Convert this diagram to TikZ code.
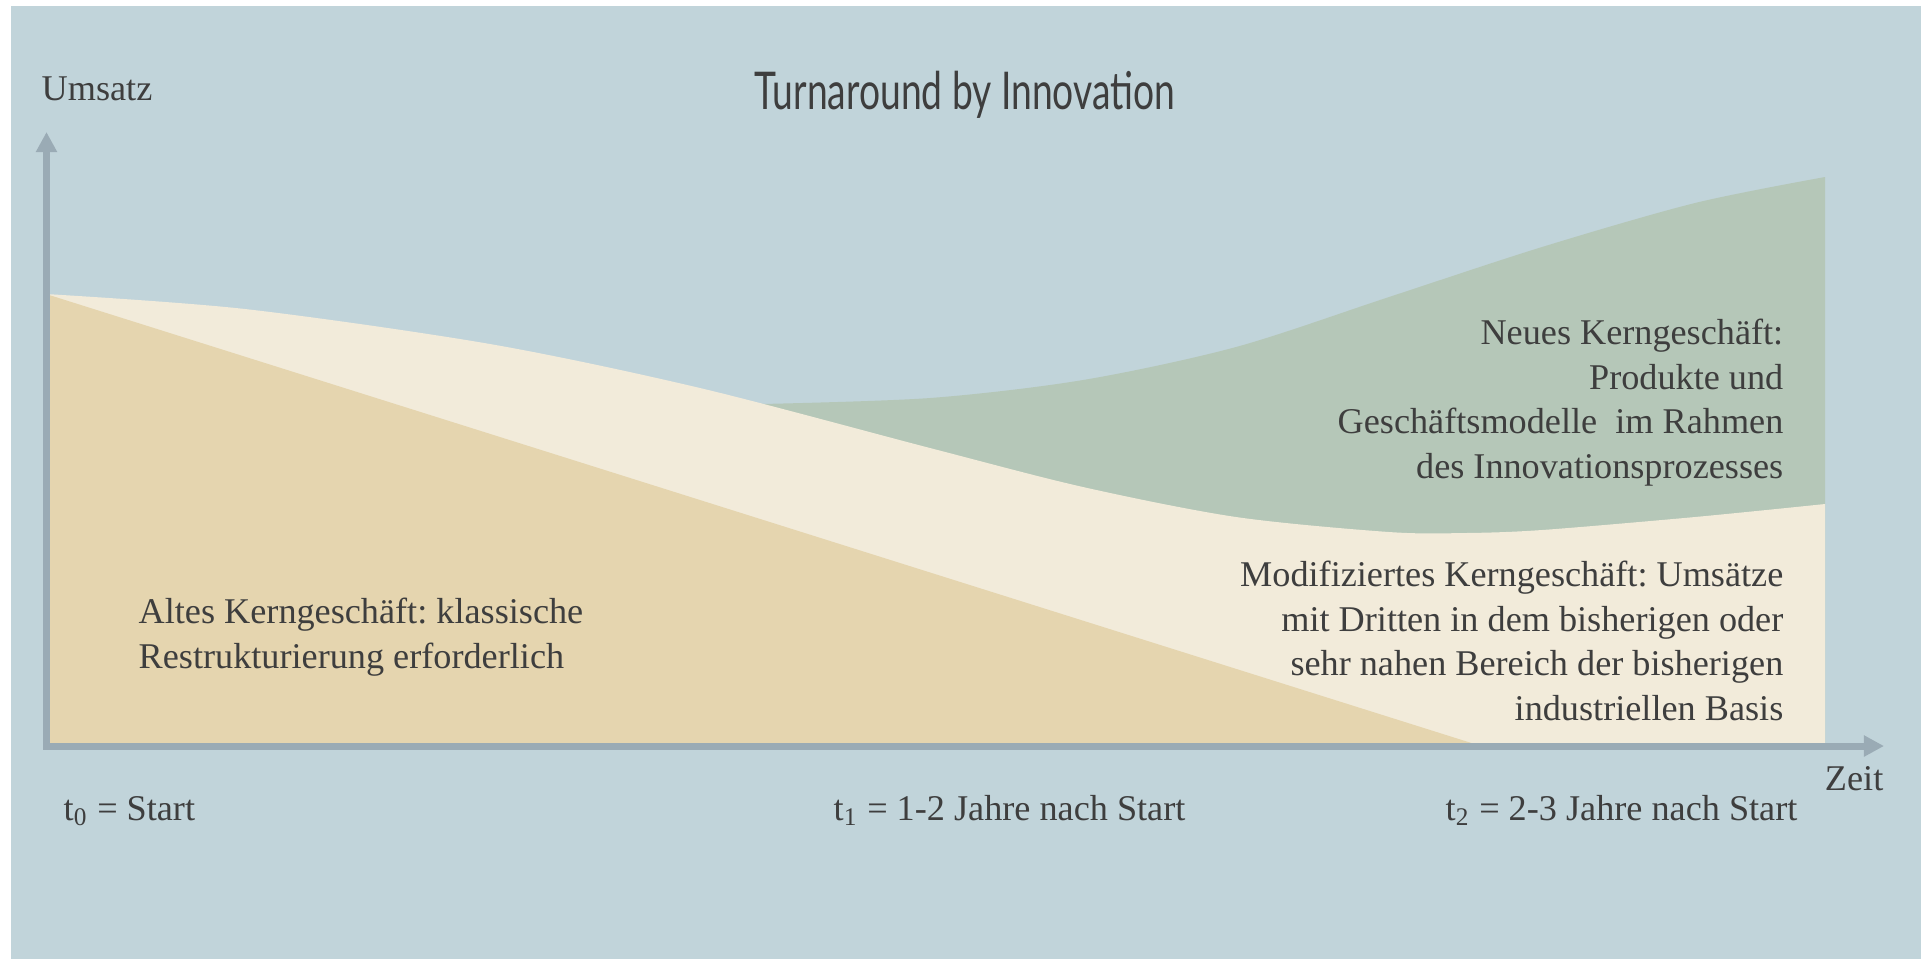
\documentclass[tikz,border=0pt]{standalone}
\usepackage{fontspec}
\setmainfont{Liberation Serif}
\newfontfamily\titelfont[FakeStretch=0.715]{Lato}
\usetikzlibrary{arrows.meta}
\frenchspacing

\definecolor{hinter}{HTML}{C1D4DA}
\definecolor{achse}{HTML}{9AABB5}
\definecolor{alt}{HTML}{E5D5AF}
\definecolor{modif}{HTML}{F2EBDA}
\definecolor{neu}{HTML}{B5C7B8}
\definecolor{schrift}{HTML}{3E3E3E}

\tikzset{
  achsenpfeil/.style={draw=achse, line width=2pt, line cap=rect,
    -{Triangle[width=5.7pt,length=5.7pt]}},
  beschr/.style={font=\fontsize{10.3}{12.65}\selectfont, text=schrift, inner sep=0pt},
}

\begin{document}
\begin{tikzpicture}[x=0.01cm, y=-0.01cm]
  \useasboundingbox (0,0) rectangle (1921,959);
  \fill[hinter] (11,6) rectangle (1921,959);

  % Flaechen
  \fill[neu] plot[smooth] coordinates {(761,404) (930,398) (1083,380) (1236,347)
      (1389,297) (1542,247) (1695,203) (1825,177)}
    -- (1825,746) -- (761,746) -- cycle;
  \fill[modif] plot[smooth] coordinates {(46,294) (245,309) (490,344) (700,388)
      (930,448) (1083,487) (1236,517) (1389,532) (1465,533) (1542,530)
      (1695,517) (1825,504)}
    -- (1825,746) -- (46,746) -- cycle;
  \fill[alt] (46,294) -- (1481,746) -- (46,746) -- cycle;

  % Achsen
  \coordinate (ursprung) at (46.5,746);
  \coordinate (yende) at (46.5,132);
  \coordinate (xende) at (1884,746);
  \draw[achsenpfeil] (ursprung) -- (yende);
  \draw[achsenpfeil] (ursprung) -- (xende);

  % Beschriftungen
  \node[beschr, anchor=base west] (umsatz) at (41,100) {Umsatz};
  \node[font={\titelfont\fontsize{14.8}{17}\selectfont}, text=schrift, inner sep=0pt,
    anchor=base] (titel) at (965,109) {Turnaround by Innovation};
  \node[beschr, anchor=base east] (zeit) at (1884,790) {Zeit};

  \node[beschr, anchor=base west] (tnull) at (63,820) {t\textsubscript{0} = Start};
  \node[beschr, anchor=base west] (teins) at (833,820) {t\textsubscript{1} = 1-2 Jahre nach Start};
  \node[beschr, anchor=base west] (tzwei) at (1445,820) {t\textsubscript{2} = 2-3 Jahre nach Start};

  \node[beschr, anchor=base west, align=left] (altes) at (138,668)
    {Altes Kerngeschäft: klassische\\Restrukturierung erforderlich};
  \node[beschr, anchor=base east, align=right] (modifiziert) at (1784,720)
    {Modifiziertes Kerngeschäft: Umsätze\\mit Dritten in dem bisherigen oder\\
     sehr nahen Bereich der bisherigen\\industriellen Basis};
  \node[beschr, anchor=base east, align=right] (neues) at (1784,478)
    {Neues Kerngeschäft:\\Produkte und\\Geschäftsmodelle\ \ im Rahmen\\
     des Innovationsprozesses};
\end{tikzpicture}
\end{document}
